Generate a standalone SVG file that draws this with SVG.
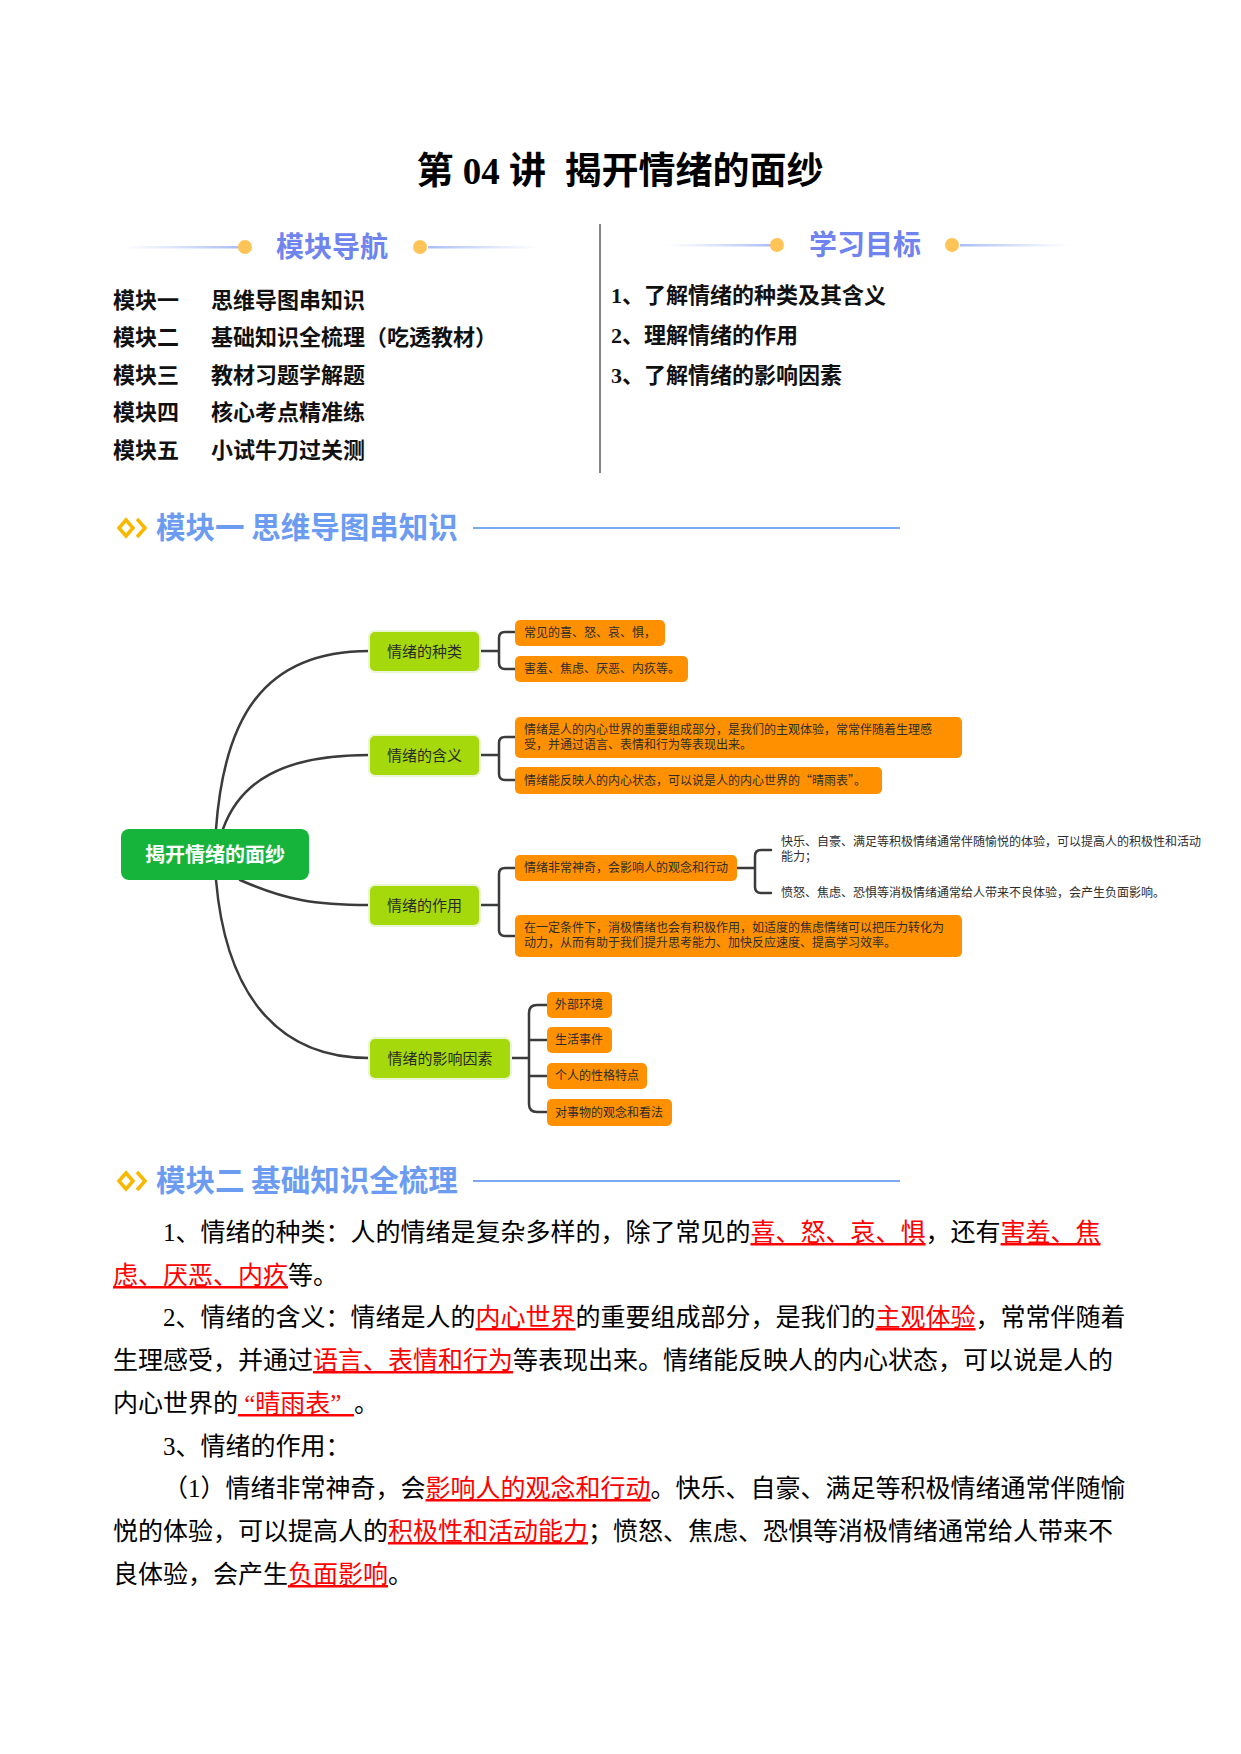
<svg xmlns="http://www.w3.org/2000/svg" width="1241" height="1754" viewBox="0 0 1241 1754">
<style>
.serif{font-family:"Liberation Serif","Noto Sans CJK SC",serif}
.sans{font-family:"Noto Sans CJK SC","Liberation Sans",sans-serif}
.title{font-size:37px;font-weight:bold;fill:#000}
.nav{font-size:22px;font-weight:bold;fill:#111}
.hdr{font-size:28px;font-weight:bold;fill:#6f84ef}
.mod{font-size:29.5px;font-weight:bold;fill:#6c9cf1}
.body{font-size:25px;fill:#000}
.red{fill:#ff0000;text-decoration:underline}
.root rect{fill:#17b43b}
.root text{font-size:20px;font-weight:bold;fill:#fff}
.branch rect{fill:#a6d90b;stroke:#e9f5d4;stroke-width:2}
.branch text{font-size:15px;fill:#2a2a2a}
.leaf rect{fill:#ff9100}
.leaf text,.plain text{font-size:12px;fill:#2d2d2d}
.conn path{fill:none;stroke:#3b3b3b;stroke-width:2.5;stroke-linecap:round;stroke-linejoin:round}
.dot{fill:#ffc457}
.icon{fill:none;stroke:#f9b800;stroke-width:3.5;stroke-linejoin:miter}
</style>
<defs>
<linearGradient id="fadeR" x1="0" x2="1" y1="0" y2="0"><stop offset="0" stop-color="#b8c8f7" stop-opacity="0"/><stop offset="1" stop-color="#a8bdf6"/></linearGradient>
<linearGradient id="fadeL" x1="0" x2="1" y1="0" y2="0"><stop offset="0" stop-color="#a8bdf6"/><stop offset="1" stop-color="#b8c8f7" stop-opacity="0"/></linearGradient>
</defs>
<rect width="1241" height="1754" fill="#fff"/>

<g id="title"><text class="serif title" x="620" y="184" text-anchor="middle" xml:space="preserve">第 04 讲  揭开情绪的面纱</text></g>

<g id="nav-header">
<rect x="123" y="246" width="117" height="2.5" fill="url(#fadeR)"/>
<circle class="dot" cx="245" cy="247" r="7"/>
<text class="sans hdr" x="332" y="257" text-anchor="middle">模块导航</text>
<circle class="dot" cx="420" cy="247" r="7"/>
<rect x="428" y="246" width="110" height="2.5" fill="url(#fadeL)"/>
</g>
<g id="goal-header">
<rect x="666" y="244" width="106" height="2.5" fill="url(#fadeR)"/>
<circle class="dot" cx="777" cy="245" r="7"/>
<text class="sans hdr" x="865" y="255" text-anchor="middle">学习目标</text>
<circle class="dot" cx="952" cy="245" r="7"/>
<rect x="960" y="244" width="110" height="2.5" fill="url(#fadeL)"/>
</g>
<line x1="600" y1="224" x2="600" y2="473" stroke="#333" stroke-width="1.2"/>

<g id="nav-list" class="serif nav">
<text x="113" y="308">模块一</text><text x="211" y="308">思维导图串知识</text>
<text x="113" y="345">模块二</text><text x="211" y="345">基础知识全梳理（吃透教材）</text>
<text x="113" y="383">模块三</text><text x="211" y="383">教材习题学解题</text>
<text x="113" y="420">模块四</text><text x="211" y="420">核心考点精准练</text>
<text x="113" y="458">模块五</text><text x="211" y="458">小试牛刀过关测</text>
</g>
<g id="goal-list" class="serif nav">
<text x="611" y="303">1、了解情绪的种类及其含义</text>
<text x="611" y="343">2、理解情绪的作用</text>
<text x="611" y="383">3、了解情绪的影响因素</text>
</g>

<g id="module1-header">
<polygon class="icon" points="119,528 126,520 133,528 126,536"/>
<polyline class="icon" points="137,519 145,528 137,537"/>
<text class="sans mod" x="156" y="538">模块一 思维导图串知识</text>
<line x1="473" y1="528" x2="900" y2="528" stroke="#7aa8f3" stroke-width="2"/>
</g>

<g id="connectors" class="conn">
<path d="M216 829 C 224 720, 262 651, 369 651"/>
<path d="M223 829 C 240 782, 282 755, 369 755"/>
<path d="M240 880 C 285 900, 315 905, 369 905"/>
<path d="M216 880 C 226 995, 278 1058, 369 1058"/>
<path d="M480 651 H499 M515 632 H505 Q499 632 499 638 V663 Q499 669 505 669 H515"/>
<path d="M480 755 H499 M515 737 H505 Q499 737 499 743 V774 Q499 780 505 780 H515"/>
<path d="M480 905 H499 M515 868 H505 Q499 868 499 874 V930 Q499 936 505 936 H515"/>
<path d="M737 868 H755 M771 850 H761 Q755 850 755 856 V887 Q755 893 761 893 H771"/>
<path d="M511 1058 H529 M547 1005 H537 Q529 1005 529 1013 V1104 Q529 1112 537 1112 H547 M529 1040 H547 M529 1076 H547"/>
</g>

<g id="root" class="root sans"><rect x="121" y="829" width="188" height="51" rx="8"/><text x="215" y="862" text-anchor="middle">揭开情绪的面纱</text></g>

<g id="b-types" class="branch sans"><rect x="369" y="631" width="111" height="41" rx="6"/><text x="424.5" y="657" text-anchor="middle">情绪的种类</text></g>
<g id="b-meaning" class="branch sans"><rect x="369" y="735" width="111" height="41" rx="6"/><text x="424.5" y="761" text-anchor="middle">情绪的含义</text></g>
<g id="b-role" class="branch sans"><rect x="369" y="885" width="111" height="41" rx="6"/><text x="424.5" y="911" text-anchor="middle">情绪的作用</text></g>
<g id="b-factors" class="branch sans"><rect x="369" y="1038" width="142" height="41" rx="6"/><text x="440" y="1064" text-anchor="middle">情绪的影响因素</text></g>

<g id="l-types1" class="leaf sans"><rect x="515" y="620" width="150" height="26" rx="5"/><text x="524" y="637">常见的喜、怒、哀、惧，</text></g>
<g id="l-types2" class="leaf sans"><rect x="515" y="656" width="173" height="26" rx="5"/><text x="524" y="673">害羞、焦虑、厌恶、内疚等。</text></g>
<g id="l-meaning1" class="leaf sans"><rect x="515" y="717" width="447" height="41" rx="5"/><text x="524" y="734">情绪是人的内心世界的重要组成部分，是我们的主观体验，常常伴随着生理感</text><text x="524" y="749">受，并通过语言、表情和行为等表现出来。</text></g>
<g id="l-meaning2" class="leaf sans"><rect x="515" y="767" width="367" height="27" rx="5"/><text x="524" y="785">情绪能反映人的内心状态，可以说是人的内心世界的“晴雨表”。</text></g>
<g id="l-role1" class="leaf sans"><rect x="515" y="855" width="222" height="26" rx="5"/><text x="524" y="872">情绪非常神奇，会影响人的观念和行动</text></g>
<g id="l-role2" class="leaf sans"><rect x="515" y="915" width="447" height="42" rx="5"/><text x="524" y="932">在一定条件下，消极情绪也会有积极作用，如适度的焦虑情绪可以把压力转化为</text><text x="524" y="947">动力，从而有助于我们提升思考能力、加快反应速度、提高学习效率。</text></g>
<g id="t-positive" class="plain sans"><text x="781" y="846">快乐、自豪、满足等积极情绪通常伴随愉悦的体验，可以提高人的积极性和活动</text><text x="781" y="861">能力；</text></g>
<g id="t-negative" class="plain sans"><text x="781" y="897">愤怒、焦虑、恐惧等消极情绪通常给人带来不良体验，会产生负面影响。</text></g>
<g id="l-f1" class="leaf sans"><rect x="547" y="992" width="65" height="26" rx="5"/><text x="555" y="1009">外部环境</text></g>
<g id="l-f2" class="leaf sans"><rect x="547" y="1027" width="65" height="26" rx="5"/><text x="555" y="1044">生活事件</text></g>
<g id="l-f3" class="leaf sans"><rect x="547" y="1063" width="100" height="26" rx="5"/><text x="555" y="1080">个人的性格特点</text></g>
<g id="l-f4" class="leaf sans"><rect x="547" y="1099" width="125" height="27" rx="5"/><text x="555" y="1117">对事物的观念和看法</text></g>

<g id="module2-header">
<polygon class="icon" points="119,1181 126,1173 133,1181 126,1189"/>
<polyline class="icon" points="137,1172 145,1181 137,1190"/>
<text class="sans mod" x="156" y="1191">模块二 基础知识全梳理</text>
<line x1="473" y1="1181" x2="900" y2="1181" stroke="#7aa8f3" stroke-width="2"/>
</g>

<g id="module2-body" class="serif body">
<text x="163" y="1241">1、情绪的种类：人的情绪是复杂多样的，除了常见的<tspan class="red">喜、怒、哀、惧</tspan>，还有<tspan class="red">害羞、焦</tspan></text>
<text x="113" y="1284"><tspan class="red">虑、厌恶、内疚</tspan>等。</text>
<text x="163" y="1326">2、情绪的含义：情绪是人的<tspan class="red">内心世界</tspan>的重要组成部分，是我们的<tspan class="red">主观体验</tspan>，常常伴随着</text>
<text x="113" y="1369">生理感受，并通过<tspan class="red">语言、表情和行为</tspan>等表现出来。情绪能反映人的内心状态，可以说是人的</text>
<text x="113" y="1412" xml:space="preserve">内心世界的<tspan class="red"> “晴雨表”  </tspan>。</text>
<text x="163" y="1455">3、情绪的作用：</text>
<text x="163" y="1497">（1）情绪非常神奇，会<tspan class="red">影响人的观念和行动</tspan>。快乐、自豪、满足等积极情绪通常伴随愉</text>
<text x="113" y="1540">悦的体验，可以提高人的<tspan class="red">积极性和活动能力</tspan>；愤怒、焦虑、恐惧等消极情绪通常给人带来不</text>
<text x="113" y="1583">良体验，会产生<tspan class="red">负面影响</tspan>。</text>
</g>
</svg>
